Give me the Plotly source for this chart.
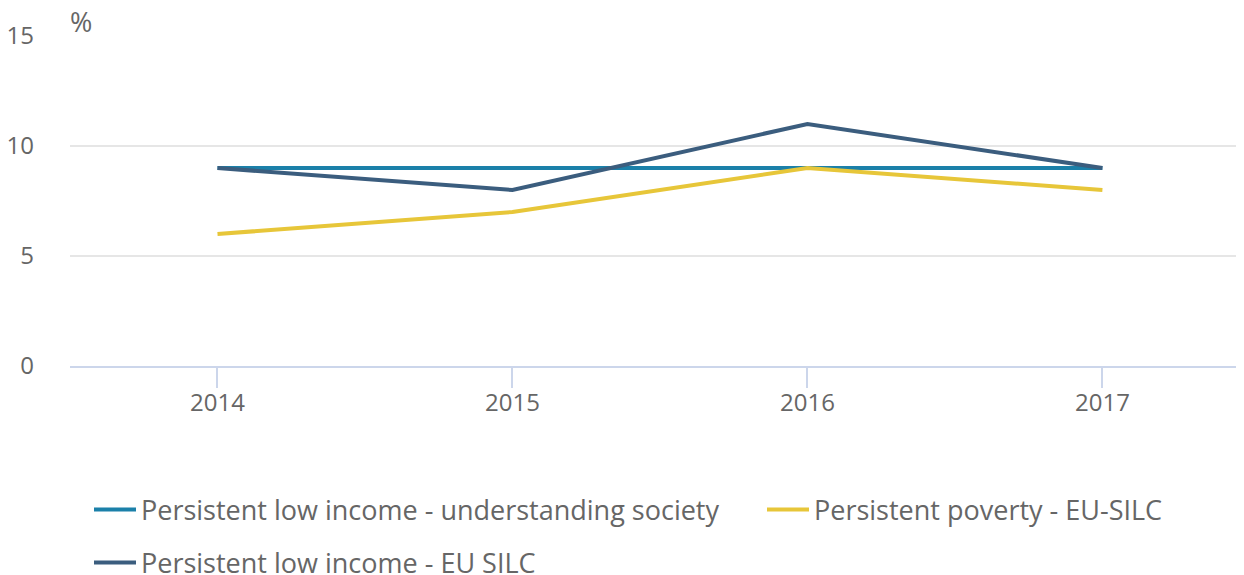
import plotly.graph_objects as go

years = ["2014", "2015", "2016", "2017"]
understanding_society = [9, 9, 9, 9]
persistent_poverty = [6, 7, 9, 8]
eu_silc = [9, 8, 11, 9]

names = [
    "Persistent low income - understanding society",
    "Persistent poverty - EU-SILC",
    "Persistent low income - EU SILC",
]
colors = ["#1b80a9", "#e7c639", "#3b5d7e"]
series = [understanding_society, persistent_poverty, eu_silc]
legends = ["legend", "legend3", "legend2"]

fig = go.Figure()
for name, col, vals, lg in zip(names, colors, series, legends):
    fig.add_trace(go.Scatter(
        x=years, y=vals, name=name, mode="lines",
        line=dict(color=col, width=4),
        legend=lg,
    ))

font = dict(family="Open Sans", size=24, color="#666666")
lfont = dict(family="Open Sans", size=27, color="#666666")
# page has an 8px body margin; figure is sized to fit the window
OFF = 8
W, H = 1244 - OFF, 575 - OFF
L, T, B = 70 - OFF, 36 - OFF, 209
PW, PH = W - L, H - T - B


def leg(x, y):
    return dict(
        orientation="h", xref="container", yref="container",
        x=x / W, y=1 - y / H, xanchor="left", yanchor="middle",
        font=lfont, itemwidth=42, bgcolor="rgba(0,0,0,0)",
    )


fig.update_layout(
    width=W, height=H,
    margin=dict(l=L, r=0, t=T, b=B),
    paper_bgcolor="white", plot_bgcolor="white",
    font=font,
    showlegend=True,
    legend=leg(89 - OFF, 510 - OFF),
    legend3=leg(762 - OFF, 510 - OFF),
    legend2=leg(89 - OFF, 563 - OFF),
    annotations=[dict(
        text="%", xref="paper", yref="paper",
        x=(68 - OFF - L) / PW, y=(H - B - (22 - OFF)) / PH,
        xanchor="left", yanchor="middle",
        showarrow=False, font=dict(family="Open Sans", size=27, color="#666666"),
    )],
)
fig.update_xaxes(
    type="category", range=[-0.5, 3.48], automargin=False,
    showgrid=False, zeroline=False,
    showline=True, linecolor="#ccd6eb", linewidth=2,
    ticks="outside", ticklen=20, tickwidth=2, tickcolor="#ccd6eb",
    ticklabelstandoff=-6,
    tickfont=font, fixedrange=True,
)
fig.update_yaxes(
    range=[0, 15], tickvals=[0, 5, 10, 15], automargin=False,
    showgrid=True, gridcolor="#e6e6e6", gridwidth=2,
    zeroline=False, showline=False,
    ticklabelstandoff=35, tickfont=font, fixedrange=True,
)

fig.write_html("out.html")
